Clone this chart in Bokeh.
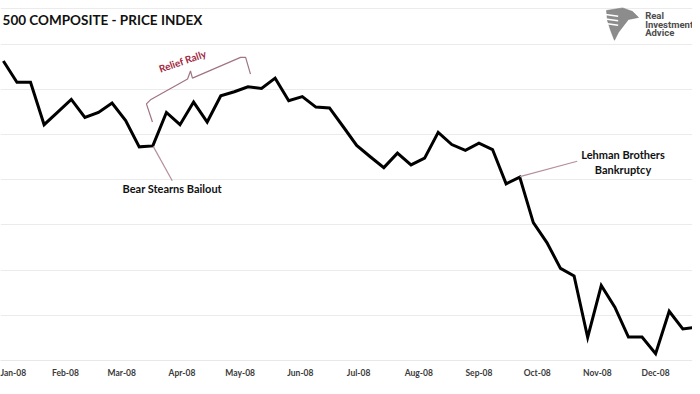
import pandas as pd
from bokeh.plotting import figure
from bokeh.models import (FixedTicker, MonthsTicker, DatetimeTickFormatter, Range1d,
                          LinearAxis, Label, ColumnDataSource)
from bokeh.embed import file_html
from bokeh.resources import INLINE

# ---------------- data ----------------
title_text = "500 COMPOSITE - PRICE INDEX"
start_date = "2007-12-31"          # first weekly observation
price = [1463, 1416, 1416, 1322, 1350, 1378, 1338, 1349, 1370, 1331,
         1273, 1275, 1349, 1322, 1372, 1328, 1386, 1395, 1406, 1402,
         1425, 1375, 1384, 1361, 1359, 1318, 1276, 1251, 1227, 1259,
         1233, 1248, 1305, 1278, 1265, 1281, 1267, 1191, 1206, 1105,
         1061, 1004, 987, 851, 966, 918, 852, 852, 815, 909,
         870, 874]
grid_levels = [800, 900, 1000, 1100, 1200, 1300, 1400, 1500, 1579]
rally_label = "Relief Rally"
bear_label = "Bear Stearns Bailout"
lehman_label = ["Lehman Brothers", "Bankruptcy"]
logo_lines = ["Real", "Investment", "Advice"]

dates = pd.date_range(start_date, periods=len(price), freq="7D")
src = ColumnDataSource(dict(date=dates, price=price))

base = pd.Timestamp("2008-01-01")
def day(n):
    return (base + pd.Timedelta(days=n)).value / 1e6

W, H = 692, 386
p = figure(width=W, height=H, output_backend="svg", toolbar_location=None,
           x_axis_type="datetime", y_axis_location=None,
           x_range=Range1d(day(-2.47), day(354.0)), y_range=Range1d(800, 1596.9),
           min_border_left=0, min_border_right=0, min_border_top=0,
           min_border_bottom=24)
p.outline_line_color = None
p.background_fill_color = "white"
p.border_fill_color = "white"

p.xgrid.visible = False
p.ygrid.ticker = FixedTicker(ticks=grid_levels)
p.ygrid.grid_line_color = "#ebebeb"
p.ygrid.grid_line_width = 1

xa = p.xaxis[0]
xa.ticker = MonthsTicker(months=list(range(12)))
xa.formatter = DatetimeTickFormatter(months="%b-%y", days="%b-%y")
xa.major_tick_line_color = None
xa.minor_tick_line_color = None
xa.major_tick_out = 0
xa.minor_tick_out = 0
xa.axis_line_color = "#e8e8e8"
xa.major_label_standoff = 7
xa.major_label_text_font = "Lato"
xa.major_label_text_font_style = "bold"
xa.major_label_text_font_size = "8.5px"
xa.major_label_text_color = "#3a3a3a"
xa.axis_label = " "
xa.axis_label_text_font_size = "3px"
xa.axis_label_standoff = 0

ax2 = LinearAxis(ticker=FixedTicker(ticks=[]), major_label_text_font_size="0px",
                 axis_line_color="#e8e8e8", major_tick_line_color=None,
                 minor_tick_line_color=None, major_tick_out=0, minor_tick_out=0)
p.add_layout(ax2, "below")

p.line(x="date", y="price", source=src, line_color="black", line_width=3,
       line_join="miter")

# ---------------- annotations ----------------
p.add_layout(Label(x=day(-1.4), y=1552.8, text=title_text, text_font="Lato",
                   text_font_style="bold", text_font_size="13.5px",
                   text_color="#111111", text_baseline="middle"))

brace_color = "#a07482"
p.line(x=[day(75.8), day(72.7), day(74.8), day(93.9), day(95.4), day(96.4),
          day(121.2), day(123.8), day(126.3)],
       y=[1328, 1368, 1377, 1423, 1441, 1425, 1471, 1471, 1434],
       line_color=brace_color, line_width=1.2)
p.add_layout(Label(x=day(91.3), y=1463, text=rally_label, text_font="Lato",
                   text_font_style="bold", text_font_size="10px",
                   text_color="#a3283f", text_align="center",
                   text_baseline="middle", angle=0.33, angle_units="rad"))

leader_color = "#b58f9a"
p.line(x=[day(76.2), day(86.0)], y=[1274, 1198], line_color=leader_color,
       line_width=1.2)
p.add_layout(Label(x=day(86), y=1180, text=bear_label, text_font="Lato",
                   text_font_style="bold", text_font_size="11px",
                   text_color="#111111", text_align="center",
                   text_baseline="middle"))

p.line(x=[day(265.1), day(294.6)], y=[1207, 1241], line_color=leader_color,
       line_width=1.2)
for txt, yv in zip(lehman_label, [1256, 1223]):
    p.add_layout(Label(x=day(318.2), y=yv, text=txt, text_font="Lato",
                       text_font_style="bold", text_font_size="11px",
                       text_color="#111111", text_align="center",
                       text_baseline="middle"))

# logo
sh = -9.3
p.patch(x=[day(319.0 + sh), day(327.3 + sh), day(332.4 + sh), day(335.5 + sh),
           day(330.3 + sh), day(328.3 + sh), day(325.2 + sh), day(323.1 + sh),
           day(321.1 + sh), day(319.5 + sh)],
        y=[1574.8, 1580.5, 1572.6, 1559.4, 1555.0, 1544.0, 1526.4, 1508.8,
           1530.8, 1552.8],
        fill_color="#8c8c8c", line_color="#6e6e6e", line_width=0.5)
for yv in [1566, 1556, 1546]:
    p.line(x=[day(318.5 + sh), day(325.0 + sh)], y=[yv, yv - 4],
           line_color="white", line_width=1.5)
for txt, yv in zip(logo_lines, [1562.7, 1544.0, 1525.3]):
    p.add_layout(Label(x=day(329.6), y=yv, text=txt, text_font="Roboto",
                       text_font_style="bold", text_font_size="9.5px",
                       text_color="#4d4d4d", text_baseline="middle"))

open("out.html", "w").write(file_html(p, INLINE))
